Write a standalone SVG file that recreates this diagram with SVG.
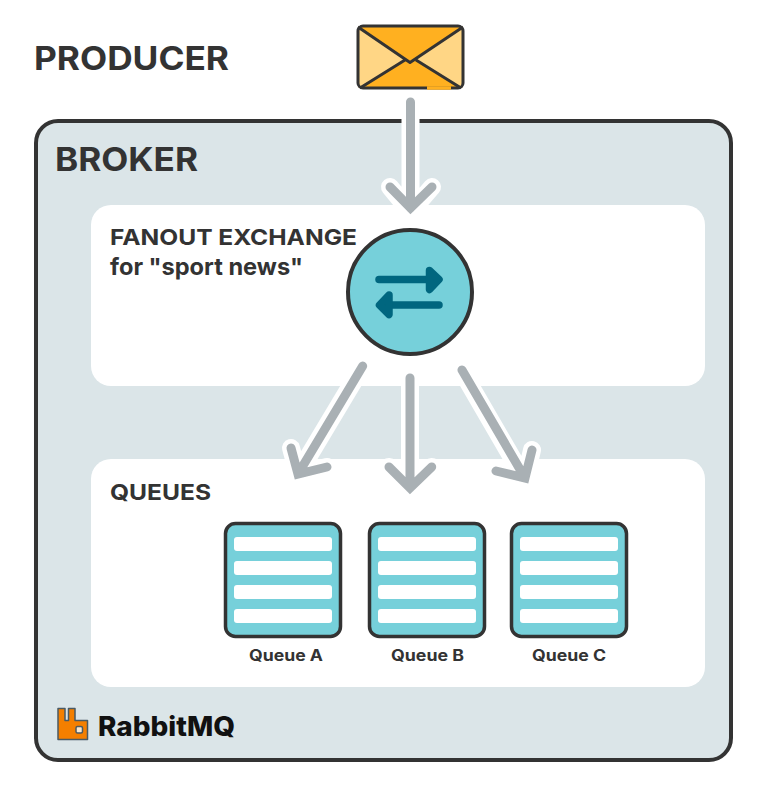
<svg xmlns="http://www.w3.org/2000/svg" width="768" height="797" viewBox="0 0 768 797">
<style>
text{font-family:Inter,"Liberation Sans",sans-serif;font-weight:700;fill:#333}
.h{font-size:32px}
.m{font-size:22px}
.l{font-size:23.500px}
.s{font-size:15.500px}
.panel{fill:#fff}
.teal{fill:#76d0da;stroke:#333;stroke-width:4}
.q{stroke-width:3.500}
.bar{fill:#fff}
.halo{fill:none;stroke:#fff;stroke-width:18;stroke-linecap:round;stroke-linejoin:round}
.arrow{fill:none;stroke:#a9b0b4;stroke-width:9;stroke-linecap:round;stroke-linejoin:miter}
.ex{fill:#00667f;stroke:#00667f;stroke-width:7.500;stroke-linecap:round;stroke-linejoin:round}
.env{stroke:#333;stroke-width:3;stroke-linejoin:round;fill:none}
</style>
<rect width="768" height="797" fill="#fff"/>
<g id="broker">
<rect x="36" y="121" width="695" height="639" rx="22" fill="#dbe5e8" stroke="#333" stroke-width="4"/>
<text class="h" x="55" y="171" textLength="143" lengthAdjust="spacingAndGlyphs">BROKER</text>
</g>
<g id="producer-label">
<text class="h" x="34" y="70" textLength="195" lengthAdjust="spacingAndGlyphs">PRODUCER</text>
</g>
<g id="exchange-panel">
<rect class="panel" x="91" y="205" width="614" height="181" rx="20"/>
<text class="m" x="110" y="245" textLength="247" lengthAdjust="spacingAndGlyphs">FANOUT EXCHANGE</text>
<text class="l" x="110" y="275" textLength="193" lengthAdjust="spacingAndGlyphs">for "sport news"</text>
</g>
<g id="queues-panel">
<rect class="panel" x="91" y="459" width="614" height="228" rx="20"/>
<text class="m" x="110" y="500" textLength="101" lengthAdjust="spacingAndGlyphs">QUEUES</text>
</g>
<g id="connectors">
<path class="halo" d="M410.500 98V212M390 187L410.500 212L432 187"/>
<path class="arrow" d="M410.500 102V208M390 187L410.500 208L432 187"/>
<path class="halo" d="M362.700 366L298 474M291 448L298 474L327 467"/>
<path class="arrow" d="M362.700 366L298 474M291 448L298 474L327 467"/>
<path class="halo" d="M410 376V490M389 467L410 490L431.700 467"/>
<path class="arrow" d="M410 378V488M389 467L410 488L431.700 467"/>
<path class="halo" d="M460 368L525 480M496 470L525 480L532 450"/>
<path class="arrow" d="M462 370L525 478M496 471L525 478L532 450"/>
</g>
<g id="envelope">
<rect x="358" y="26" width="105" height="62" rx="5" fill="#ffd685"/>
<path d="M358 26H463L410 63ZM358 88L410 57L463 88Z" fill="#ffb020"/>
<path class="env" d="M358 27L410 62.500L463 27M360 88L405 60M461 88L416 60"/>
<rect class="env" x="358" y="26" width="105" height="62" rx="5"/>
<path d="M427 88H451" stroke="#ffb020" stroke-width="3.500" fill="none"/>
</g>
<g id="exchange">
<circle class="teal" cx="410" cy="292" r="62"/>
<path class="ex" d="M379 279.500H438"/><path class="ex" d="M429.500 270.500L439 279.500L429.500 289.500Z"/>
<path class="ex" d="M439 305H382"/><path class="ex" d="M389 295L379.500 305L389 314.500Z"/>
</g>
<g id="queue-a">
<rect class="teal q" x="225.500" y="523.500" width="115" height="113" rx="10"/>
<rect class="bar" x="234" y="537" width="98" height="14" rx="3"/><rect class="bar" x="234" y="561" width="98" height="14" rx="3"/><rect class="bar" x="234" y="585" width="98" height="14" rx="3"/><rect class="bar" x="234" y="609" width="98" height="14" rx="3"/>
<text class="s" x="249" y="661" textLength="74" lengthAdjust="spacingAndGlyphs">Queue A</text>
</g>
<g id="queue-b">
<rect class="teal q" x="369.500" y="523.500" width="115" height="113" rx="10"/>
<rect class="bar" x="378" y="537" width="98" height="14" rx="3"/><rect class="bar" x="378" y="561" width="98" height="14" rx="3"/><rect class="bar" x="378" y="585" width="98" height="14" rx="3"/><rect class="bar" x="378" y="609" width="98" height="14" rx="3"/>
<text class="s" x="391" y="661" textLength="73" lengthAdjust="spacingAndGlyphs">Queue B</text>
</g>
<g id="queue-c">
<rect class="teal q" x="511.500" y="523.500" width="115" height="113" rx="10"/>
<rect class="bar" x="520" y="537" width="98" height="14" rx="3"/><rect class="bar" x="520" y="561" width="98" height="14" rx="3"/><rect class="bar" x="520" y="585" width="98" height="14" rx="3"/><rect class="bar" x="520" y="609" width="98" height="14" rx="3"/>
<text class="s" x="532" y="661" textLength="74" lengthAdjust="spacingAndGlyphs">Queue C</text>
</g>
<g id="rabbitmq-logo">
<path fill="#f47f00" stroke="#4a5a63" stroke-width="1.500" stroke-linejoin="round" d="M58 708.500H65V720.500H68.500V708.500H75V720.500H87.500V739.500H58Z"/>
<rect x="76" y="726.500" width="6.500" height="6.500" rx="1.500" fill="#f9e7cf" stroke="#4a5a63" stroke-width="1.500"/>
<text x="98" y="736" font-size="27" textLength="137" lengthAdjust="spacingAndGlyphs" style="fill:#111;font-weight:800">RabbitMQ</text>
</g>
</svg>
